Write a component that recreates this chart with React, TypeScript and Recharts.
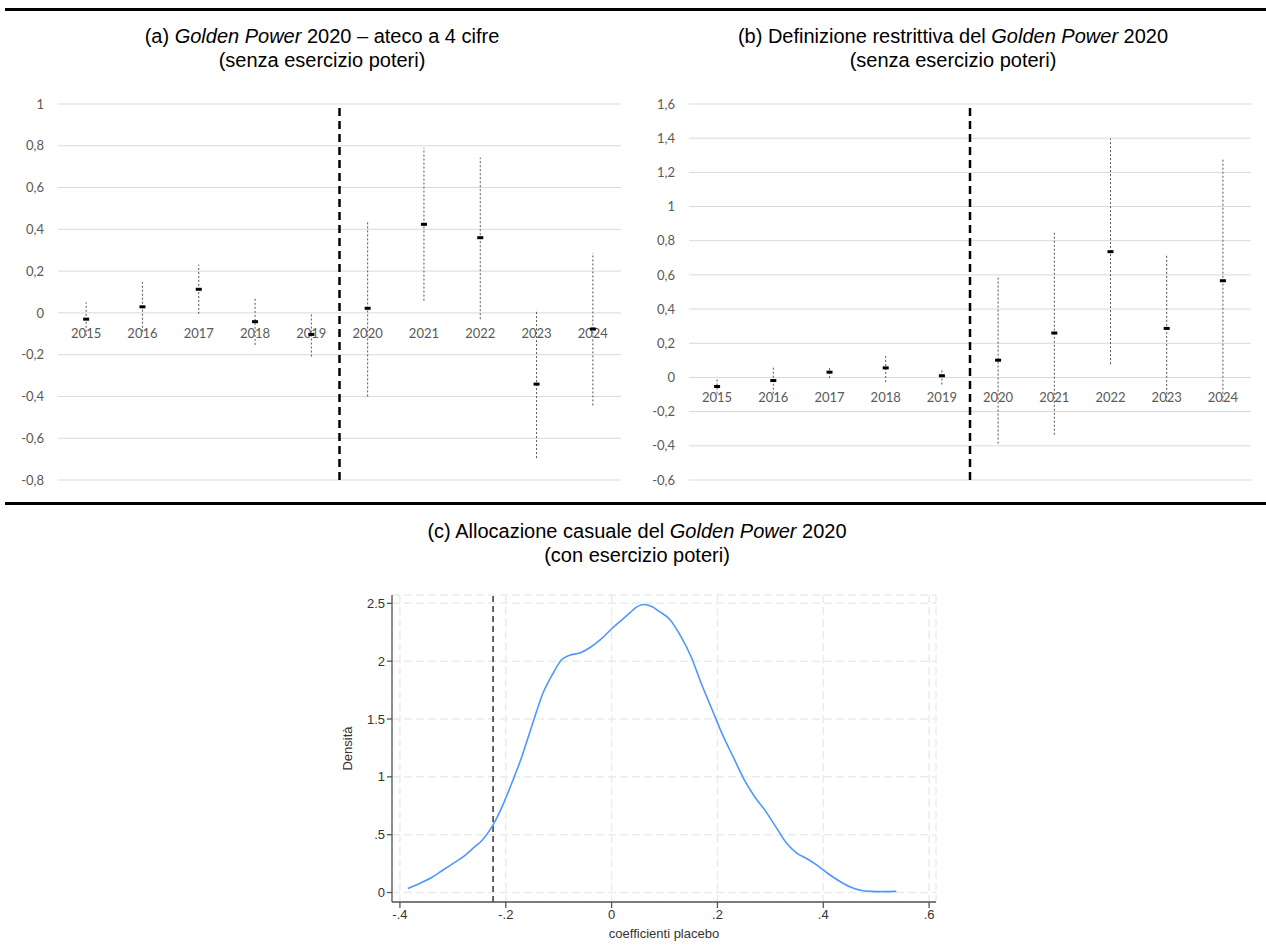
import React from "react";
import {
  ScatterChart,
  Scatter,
  LineChart,
  Line,
  XAxis,
  YAxis,
  CartesianGrid,
  ReferenceLine,
  ErrorBar,
} from "recharts";

const years = ["2015", "2016", "2017", "2018", "2019", "2020", "2021", "2022", "2023", "2024"];

// (a) Golden Power 2020 - ateco a 4 cifre
const coefA = [-0.03, 0.029, 0.113, -0.042, -0.103, 0.022, 0.424, 0.36, -0.341, -0.077];
const lowA = [-0.11, -0.09, -0.005, -0.153, -0.209, -0.4, 0.059, -0.03, -0.695, -0.443];
const highA = [0.05, 0.148, 0.231, 0.067, -0.005, 0.44, 0.79, 0.743, 0.014, 0.286];
const ticksA = [-0.8, -0.6, -0.4, -0.2, 0, 0.2, 0.4, 0.6, 0.8, 1];

// (b) Definizione restrittiva
const coefB = [-0.053, -0.018, 0.031, 0.056, 0.01, 0.101, 0.26, 0.736, 0.287, 0.566];
const lowB = [-0.094, -0.095, -0.004, -0.027, -0.041, -0.387, -0.335, 0.078, -0.143, -0.142];
const highB = [-0.012, 0.059, 0.066, 0.137, 0.053, 0.59, 0.857, 1.397, 0.717, 1.274];
const ticksB = [-0.6, -0.4, -0.2, 0, 0.2, 0.4, 0.6, 0.8, 1, 1.2, 1.4, 1.6];

// (c) placebo density
const densX = [
  -0.385, -0.36, -0.34, -0.32, -0.3, -0.28, -0.26, -0.245, -0.226, -0.21, -0.19, -0.17, -0.15,
  -0.13, -0.11, -0.095, -0.08, -0.06, -0.04, -0.02, 0, 0.02, 0.035, 0.045, 0.06, 0.075, 0.09,
  0.11, 0.13, 0.15, 0.17, 0.19, 0.21, 0.23, 0.25, 0.27, 0.29, 0.31, 0.33, 0.35, 0.37, 0.39,
  0.41, 0.43, 0.45, 0.47, 0.49, 0.51, 0.538,
];
const densY = [
  0.035, 0.085, 0.13, 0.19, 0.25, 0.31, 0.39, 0.45, 0.57, 0.71, 0.93, 1.17, 1.45, 1.72, 1.9,
  2.01, 2.05, 2.07, 2.12, 2.19, 2.28, 2.36, 2.42, 2.46, 2.49, 2.475, 2.43, 2.36, 2.22, 2.04,
  1.8, 1.58, 1.36, 1.17, 0.98, 0.83, 0.71, 0.57, 0.43, 0.34, 0.29, 0.23, 0.16, 0.1, 0.05,
  0.02, 0.01, 0.008, 0.01,
];
const densXTicks = [-0.4, -0.2, 0, 0.2, 0.4, 0.6];
const densYTicks = [0, 0.5, 1, 1.5, 2, 2.5];
const placeboRef = -0.224;

const excelFont = "Lato, 'Open Sans', sans-serif";
const arial = "'Liberation Sans', Arial, sans-serif";

const fmtComma = (v: number) => String(Math.round(v * 10) / 10).replace(".", ",");
const fmtStata = (v: number) => (v === 0 ? "0" : String(v).replace(/^(-?)0\./, "$1."));

const YearLabel = (props: any) => (
  <text
    x={props.cx}
    y={props.cy + 20}
    textAnchor="middle"
    dominantBaseline="central"
    fill="#595959"
    fontSize={13}
    fontFamily={excelFont}
  >
    {props.payload.year}
  </text>
);

const Marker = (props: any) => (
  <rect x={props.cx - 3} y={props.cy - 1.5} width={6} height={3} fill="#000" />
);

interface EventProps {
  coef: number[];
  low: number[];
  high: number[];
  ticks: number[];
  width: number;
  yWidth: number;
  right: number;
}

const EventStudy = ({ coef, low, high, ticks, width, yWidth, right }: EventProps) => {
  const data = years.map((year, i) => ({
    i,
    year,
    coef: coef[i],
    zero: 0,
    err: [coef[i] - low[i], high[i] - coef[i]],
  }));

  return (
    <ScatterChart width={width} height={420} margin={{ top: 24, right, bottom: 20, left: 0 }}>
      <CartesianGrid vertical={false} stroke="#d9d9d9" />
      <XAxis type="number" dataKey="i" domain={[-0.5, 9.5]} hide allowDataOverflow />
      <YAxis
        type="number"
        domain={[ticks[0], ticks[ticks.length - 1]]}
        ticks={ticks}
        interval={0}
        allowDataOverflow
        width={yWidth}
        axisLine={false}
        tickLine={false}
        tickSize={0}
        tickMargin={14}
        tickFormatter={fmtComma}
        tick={{ fill: "#595959", fontSize: 13, fontFamily: excelFont }}
      />
      <ReferenceLine x={4.5} stroke="#000" strokeWidth={2.5} strokeDasharray="8 5" />
      <Scatter data={data} dataKey="zero" shape={YearLabel} isAnimationActive={false} />
      <Scatter data={data} dataKey="coef" shape={Marker} isAnimationActive={false}>
        <ErrorBar
          dataKey="err"
          direction="y"
          width={0}
          stroke="#555"
          strokeWidth={1}
          strokeDasharray="2 2"
        />
      </Scatter>
    </ScatterChart>
  );
};

const Title = ({ left, top, width, children }: any) => (
  <div
    style={{
      position: "absolute",
      left,
      top,
      width,
      textAlign: "center",
      fontFamily: arial,
      fontSize: 20,
      lineHeight: "24px",
      color: "#000",
    }}
  >
    {children}
  </div>
);

const Rule = ({ top }: { top: number }) => (
  <div style={{ position: "absolute", left: 5, top, width: 1261, height: 3, background: "#000" }} />
);

export default function App() {
  const densData = densX.map((x, i) => ({ x, d: densY[i] }));

  return (
    <div
      style={{
        position: "absolute",
        left: 0,
        top: 0,
        width: 1266,
        height: 951,
        background: "#fff",
        overflow: "hidden",
      }}
    >
      <Rule top={7.5} />
      <Rule top={501.5} />

      <Title left={0} top={24} width={644}>
        (a) <i>Golden Power</i> 2020 – ateco a 4 cifre
        <br />
        (senza esercizio poteri)
      </Title>
      <Title left={640} top={24} width={626}>
        (b) Definizione restrittiva del <i>Golden Power</i> 2020
        <br />
        (senza esercizio poteri)
      </Title>
      <Title left={337} top={519} width={600}>
        (c) Allocazione casuale del <i>Golden Power</i> 2020
        <br />
        (con esercizio poteri)
      </Title>

      <div style={{ position: "absolute", left: 0, top: 80 }}>
        <EventStudy coef={coefA} low={lowA} high={highA} ticks={ticksA} width={640} yWidth={58} right={19} />
      </div>

      <div style={{ position: "absolute", left: 640, top: 80 }}>
        <EventStudy coef={coefB} low={lowB} high={highB} ticks={ticksB} width={626} yWidth={49} right={15} />
      </div>

      <div style={{ position: "absolute", left: 300, top: 575 }}>
        <LineChart width={660} height={376} data={densData} margin={{ top: 20, right: 24, bottom: 9, left: 0 }}>
          <CartesianGrid stroke="#ebebeb" strokeWidth={1.5} strokeDasharray="8 4" />
          <XAxis
            type="number"
            dataKey="x"
            domain={[-0.415, 0.613]}
            ticks={densXTicks}
            interval={0}
            allowDataOverflow
            height={40}
            stroke="#555"
            strokeWidth={1.3}
            tickSize={6}
            tickMargin={2}
            tickFormatter={fmtStata}
            tick={{ fill: "#333", fontSize: 13, fontFamily: arial }}
            label={{
              content: (p: any) => (
                <text
                  x={p.viewBox.x + p.viewBox.width / 2}
                  y={p.viewBox.y + 31}
                  textAnchor="middle"
                  dominantBaseline="central"
                  fill="#333"
                  fontSize={13}
                  fontFamily={arial}
                >
                  coefficienti placebo
                </text>
              ),
            }}
          />
          <YAxis
            type="number"
            domain={[-0.082, 2.572]}
            ticks={densYTicks}
            interval={0}
            allowDataOverflow
            width={92}
            stroke="#555"
            strokeWidth={1.3}
            tickSize={5}
            tickMargin={2}
            tickFormatter={fmtStata}
            tick={{ fill: "#333", fontSize: 13, fontFamily: arial }}
            label={{
              content: (p: any) => {
                const cx = p.viewBox.x + 47;
                const cy = p.viewBox.y + p.viewBox.height / 2;
                return (
                  <text
                    x={cx}
                    y={cy}
                    transform={`rotate(-90 ${cx} ${cy})`}
                    textAnchor="middle"
                    dominantBaseline="central"
                    fill="#333"
                    fontSize={13}
                    fontFamily={arial}
                  >
                    Densità
                  </text>
                );
              },
            }}
          />
          <ReferenceLine x={placeboRef} stroke="#333" strokeWidth={1.5} strokeDasharray="6 4" />
          <Line
            type="monotone"
            dataKey="d"
            stroke="#4f97ff"
            strokeWidth={1.6}
            dot={false}
            isAnimationActive={false}
          />
        </LineChart>
      </div>
    </div>
  );
}
